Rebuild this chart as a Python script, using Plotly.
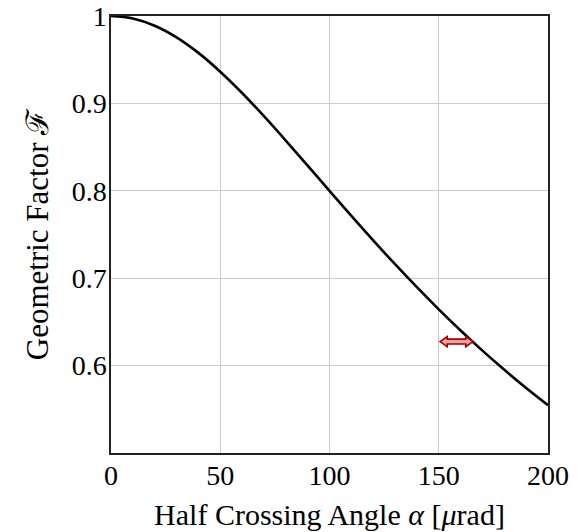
import plotly.graph_objects as go

# Data
alpha = [0, 10, 20, 30, 40, 50, 60, 70, 80, 90, 100,
         110, 120, 130, 140, 150, 160, 170, 180, 190, 200]
factor = [1.0, 0.9972, 0.9889, 0.9756, 0.9578, 0.9363, 0.9119, 0.8854, 0.8575, 0.8288, 0.8,
          0.7714, 0.7433, 0.7160, 0.6897, 0.6644, 0.6402, 0.6171, 0.5952, 0.5744, 0.5547]

x_ticks = [0, 50, 100, 150, 200]
x_ticktext = ["0", "50", "100", "150", "200"]
y_ticks = [0.6, 0.7, 0.8, 0.9, 1.0]
y_ticktext = ["0.6", "0.7", "0.8", "0.9", "1"]

# Double arrow marker (data coordinates)
arrow_x0, arrow_x1, arrow_y = 150.6, 165.7, 0.6275
head_len = 3.3      # in alpha units
head_half = 0.0058  # in F units
shaft_half = 0.0028

FONT = "Liberation Serif"
TICK_SIZE = 28
XTITLE_SIZE = 30
YTITLE_SIZE = 31

fig = go.Figure()
fig.add_trace(go.Scatter(x=alpha, y=factor, mode="lines",
                         line=dict(color="black", width=2.6, shape="spline"),
                         showlegend=False, hoverinfo="skip"))

a0, a1, y0 = arrow_x0, arrow_x1, arrow_y
path = (f"M {a0},{y0} L {a0+head_len},{y0+head_half} L {a0+head_len},{y0+shaft_half} "
        f"L {a1-head_len},{y0+shaft_half} L {a1-head_len},{y0+head_half} L {a1},{y0} "
        f"L {a1-head_len},{y0-head_half} L {a1-head_len},{y0-shaft_half} "
        f"L {a0+head_len},{y0-shaft_half} L {a0+head_len},{y0-head_half} Z")
fig.add_shape(type="path", path=path, xref="x", yref="y",
              fillcolor="#eda3a3", line=dict(color="#a40000", width=1.6))

fig.update_layout(
    width=584, height=532,
    margin=dict(l=111, r=36, t=16, b=79, autoexpand=False),
    plot_bgcolor="white", paper_bgcolor="white",
    font=dict(family=FONT, size=TICK_SIZE, color="black"),
    xaxis=dict(range=[0, 200], tickvals=x_ticks, ticktext=x_ticktext,
               showgrid=True, gridcolor="#cccccc", gridwidth=1,
               showline=True, linecolor="#222222", linewidth=1.5, mirror=True,
               ticks="", zeroline=False, tickfont=dict(size=TICK_SIZE),
               ticklabelstandoff=-3, ticklabeloverflow="allow", automargin=False,
               title=dict(text="Half Crossing Angle <i>α</i> [<i>μ</i>rad]",
                          font=dict(size=XTITLE_SIZE), standoff=14)),
    yaxis=dict(range=[0.5, 1.0], tickvals=y_ticks, ticktext=y_ticktext,
               showgrid=True, gridcolor="#cccccc", gridwidth=1,
               showline=True, linecolor="#222222", linewidth=1.5, mirror=True,
               ticks="", zeroline=False, tickfont=dict(size=TICK_SIZE),
               ticklabelstandoff=-3, ticklabeloverflow="allow", automargin=False,
               title=dict(text="\u00a0\u00a0Geometric Factor ℱ",
                          font=dict(size=YTITLE_SIZE), standoff=14)),
)

fig.write_html("out.html", config={"displayModeBar": False},
               post_script="document.body.style.margin='0';")
